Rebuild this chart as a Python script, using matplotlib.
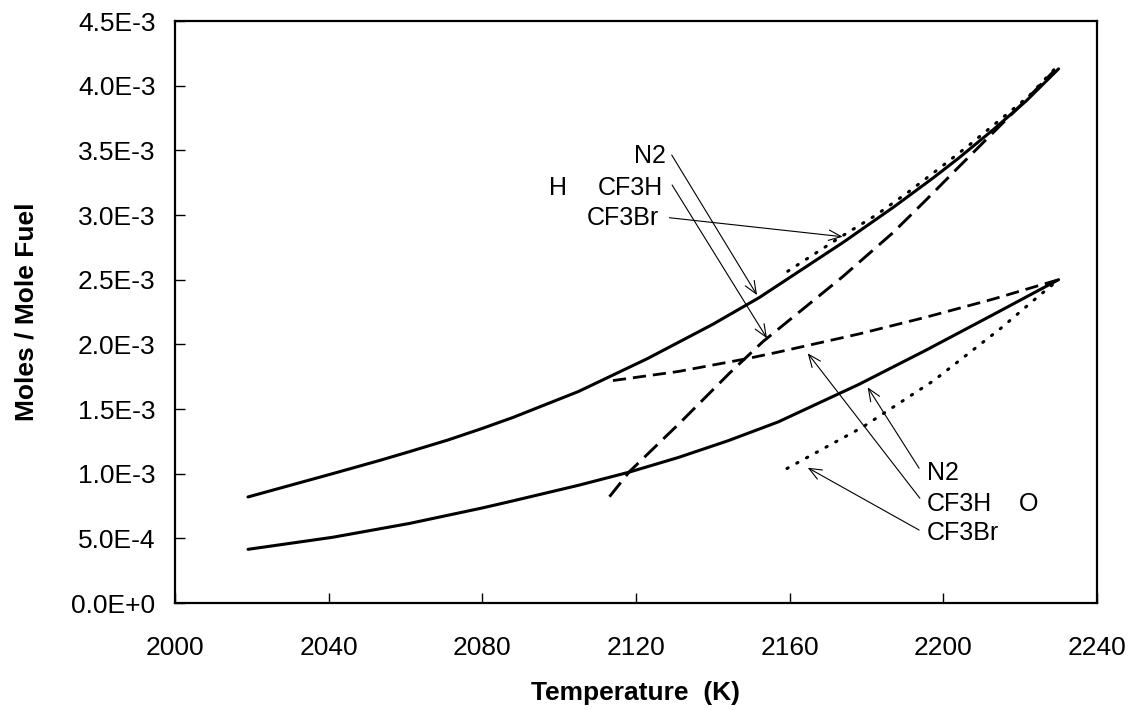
import matplotlib
matplotlib.use('Agg')
import matplotlib.pyplot as plt
from matplotlib.ticker import FixedLocator, FixedFormatter

plt.rcParams['font.family'] = ['Liberation Sans', 'DejaVu Sans']
plt.rcParams['lines.scale_dashes'] = False

# --- data (temperature K, moles / mole fuel) ---
h_n2_T = [2019, 2041, 2053, 2061, 2071, 2080, 2088, 2105, 2123, 2140, 2152,
          2174, 2187, 2197.5, 2204, 2213, 2221.5, 2230]
h_n2_y = [0.82e-3, 1.00e-3, 1.10e-3, 1.17e-3, 1.26e-3, 1.35e-3, 1.435e-3, 1.635e-3,
          1.89e-3, 2.155e-3, 2.36e-3, 2.79e-3, 3.06e-3, 3.29e-3, 3.44e-3, 3.66e-3,
          3.88e-3, 4.13e-3]

o_n2_T = [2019, 2041, 2061, 2080, 2088, 2105, 2118, 2131, 2144, 2157, 2178,
          2195.5, 2213, 2230]
o_n2_y = [0.415e-3, 0.508e-3, 0.615e-3, 0.735e-3, 0.79e-3, 0.91e-3, 1.01e-3, 1.125e-3,
          1.255e-3, 1.40e-3, 1.69e-3, 1.955e-3, 2.23e-3, 2.50e-3]

h_cf3h_T = [2113.1, 2118.3, 2131.3, 2144.3, 2153, 2173.8, 2186.8, 2195.5, 2204.1,
            2212.8, 2221.5, 2229]
h_cf3h_y = [0.822e-3, 1.016e-3, 1.389e-3, 1.776e-3, 2.02e-3, 2.523e-3, 2.861e-3,
            3.116e-3, 3.374e-3, 3.632e-3, 3.889e-3, 4.12e-3]

o_cf3h_T = [2114, 2131, 2149, 2157, 2178, 2195.5, 2213, 2230]
o_cf3h_y = [1.72e-3, 1.79e-3, 1.89e-3, 1.94e-3, 2.08e-3, 2.21e-3, 2.35e-3, 2.50e-3]

h_cf3br_T = [2159.5, 2173, 2182.5, 2191, 2199.8, 2206.7, 2222.3, 2229]
h_cf3br_y = [2.565e-3, 2.825e-3, 3.00e-3, 3.18e-3, 3.38e-3, 3.54e-3, 3.92e-3, 4.13e-3]

o_cf3br_T = [2159.3, 2179, 2197.5, 2214.8, 2223.5, 2230]
o_cf3br_y = [1.04e-3, 1.36e-3, 1.72e-3, 2.12e-3, 2.34e-3, 2.50e-3]

x_ticks = [2000, 2040, 2080, 2120, 2160, 2200, 2240]
y_ticks = [0, 0.5e-3, 1.0e-3, 1.5e-3, 2.0e-3, 2.5e-3, 3.0e-3, 3.5e-3, 4.0e-3, 4.5e-3]
y_tick_labels = ['0.0E+0', '5.0E-4', '1.0E-3', '1.5E-3', '2.0E-3', '2.5E-3',
                 '3.0E-3', '3.5E-3', '4.0E-3', '4.5E-3']

# labels: (text, position, alignment)
labels = [('H', (2099.6, 3.209e-3), 'center'),
          ('N2', (2127.7, 3.456e-3), 'right'),
          ('CF3H', (2126.9, 3.209e-3), 'right'),
          ('CF3Br', (2126.1, 2.977e-3), 'right'),
          ('N2', (2195.8, 1.005e-3), 'left'),
          ('CF3H', (2195.8, 0.765e-3), 'left'),
          ('O', (2222.3, 0.765e-3), 'center'),
          ('CF3Br', (2195.8, 0.541e-3), 'left')]

# arrows: (tail, head)
arrows = [((2129.3, 3.464e-3), (2151.5, 2.381e-3)),
          ((2129.4, 3.232e-3), (2154.1, 2.047e-3)),
          ((2128.7, 2.979e-3), (2173.8, 2.832e-3)),
          ((2193.7, 1.042e-3), (2180.3, 1.668e-3)),
          ((2193.9, 0.810e-3), (2164.7, 1.931e-3)),
          ((2193.7, 0.564e-3), (2164.7, 1.046e-3))]

fig = plt.figure(figsize=(11.35, 7.10), dpi=100)
ax = fig.add_axes([0.1542, 0.1507, 0.8123, 0.8197])

lw = 2.2
ax.plot(h_n2_T, h_n2_y, color='black', lw=lw, solid_capstyle='round', solid_joinstyle='round')
ax.plot(o_n2_T, o_n2_y, color='black', lw=lw, solid_capstyle='round', solid_joinstyle='round')
ax.plot(h_cf3h_T, h_cf3h_y, color='black', lw=2.1, dashes=(13, 6))
ax.plot(o_cf3h_T, o_cf3h_y, color='black', lw=2.0, dashes=(9.5, 5))
ax.plot(h_cf3br_T, h_cf3br_y, color='black', lw=2.2, dashes=(1, 7), dash_capstyle='round')
ax.plot(o_cf3br_T, o_cf3br_y, color='black', lw=2.2, dashes=(1, 7), dash_capstyle='round')

for text, pos, ha in labels:
    ax.text(pos[0], pos[1], text, fontsize=18, ha=ha, va='center')

for tail, head in arrows:
    ax.annotate('', xy=head, xytext=tail,
                arrowprops=dict(arrowstyle='->,head_length=0.6,head_width=0.25',
                                mutation_scale=15, lw=0.8, color='black',
                                shrinkA=0, shrinkB=0))

ax.set_xlim(2000, 2240)
ax.set_ylim(0, 4.5e-3)
ax.xaxis.set_major_locator(FixedLocator(x_ticks))
ax.yaxis.set_major_locator(FixedLocator(y_ticks))
ax.yaxis.set_major_formatter(FixedFormatter(y_tick_labels))

for s in ax.spines.values():
    s.set_linewidth(1.6)
ax.tick_params(direction='in', length=7, width=1.0, labelsize=19)
ax.tick_params(axis='x', pad=24)
ax.tick_params(axis='y', pad=14)

ax.set_xlabel('Temperature  (K)', fontsize=19, fontweight='bold', va='top')
ax.set_ylabel('Moles / Mole Fuel', fontsize=19, fontweight='bold')
ax.xaxis.set_label_coords(0.5, -0.134)
ax.yaxis.set_label_coords(-0.1486, 0.5)

fig.savefig('out.png', dpi=100)
